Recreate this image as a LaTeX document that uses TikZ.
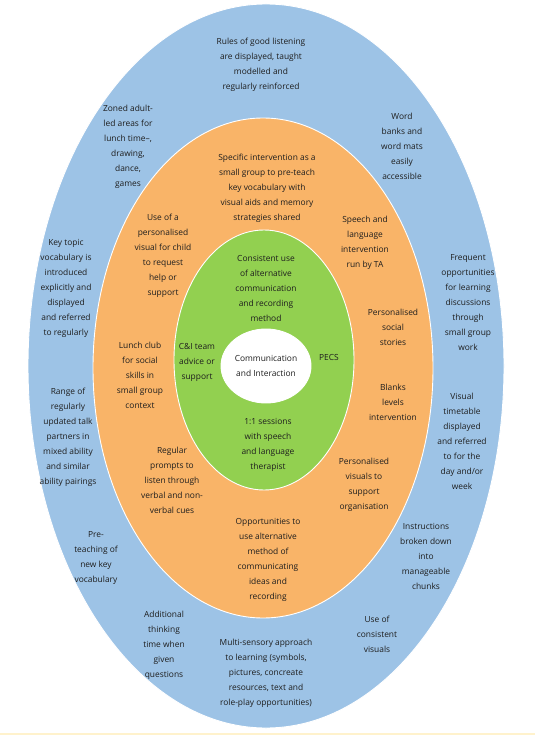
\documentclass[tikz,border=0pt]{standalone}
\usepackage{fontspec}
\setmainfont{Open Sans}
\usepackage{tikz}
\usetikzlibrary{positioning}
\definecolor{ringblue}{HTML}{9DC3E6}
\definecolor{ringorange}{HTML}{F9B468}
\definecolor{ringgreen}{HTML}{92D050}
\definecolor{stripyellow}{HTML}{FFF2CC}
\definecolor{inktext}{HTML}{1E1E1E}

\begin{document}
\begin{tikzpicture}[x=1pt, y=-1pt,
    ring/.style={draw=white, line width=0.9pt},
    txt/.style={align=center, text=inktext, inner sep=0pt,
      font=\fontsize{8.4}{15}\selectfont}]
  \useasboundingbox (0,0) rectangle (535,735);
  \fill[stripyellow] (0,732.5) rectangle (535,735);
  \draw[ring, fill=ringblue] (266,366) ellipse [x radius=238, y radius=362];
  \draw[ring, fill=ringorange] (263,368) ellipse [x radius=170, y radius=250];
  \draw[ring, fill=ringgreen] (264,360) ellipse [x radius=90, y radius=130];
  \draw[ring, fill=white] (266,366) ellipse [x radius=45, y radius=37];

  \node[txt] (listening) at (261,65) {Rules of good listening\\are displayed, taught\\modelled and\\regularly reinforced};
  \node[txt] (zoned) at (128,147) {Zoned adult-\\led areas for\\lunch time--,\\drawing,\\dance,\\games};
  \node[txt] (wordbanks) at (402,146) {Word\\banks and\\word mats\\easily\\accessible};
  \node[txt] (keytopic) at (66,288) {Key topic\\vocabulary is\\introduced\\explicitly and\\displayed\\and referred\\to regularly};
  \node[txt] (frequent) at (468,303) {Frequent\\opportunities\\for learning\\discussions\\through\\small group\\work};
  \node[txt] (talkpartners) at (68,437) {Range of\\regularly\\updated talk\\partners in\\mixed ability\\and similar\\ability pairings};
  \node[txt] (timetable) at (462,441) {Visual\\timetable\\displayed\\and referred\\to for the\\day and/or\\week};
  \node[txt] (preteach) at (96,558) {Pre-\\teaching of\\new key\\vocabulary};
  \node[txt] (instructions) at (426,556) {Instructions\\broken down\\into\\manageable\\chunks};
  \node[txt] (thinking) at (164,645) {Additional\\thinking\\time when\\given\\questions};
  \node[txt] (multisensory) at (266,673) {Multi-sensory approach\\to learning (symbols,\\pictures, concreate\\resources, text and\\role-play opportunities)};
  \node[txt] (consistentvis) at (377,634) {Use of\\consistent\\visuals};

  \node[txt] (specific) at (267,188) {Specific intervention as a\\small group to pre-teach\\key vocabulary with\\visual aids and memory\\strategies shared};
  \node[txt] (requestvis) at (163,256) {Use of a\\personalised\\visual for child\\to request\\help or\\support};
  \node[txt] (speechta) at (365,243) {Speech and\\language\\intervention\\run by TA};
  \node[txt] (lunchclub) at (140,375) {Lunch club\\for social\\skills in\\small group\\context};
  \node[txt] (stories) at (393,327) {Personalised\\social\\stories};
  \node[txt] (blanks) at (393,402) {Blanks\\levels\\intervention};
  \node[txt] (prompts) at (172,480) {Regular\\prompts to\\listen through\\verbal and non-\\verbal cues};
  \node[txt] (organise) at (364,485) {Personalised\\visuals to\\support\\organisation};
  \node[txt] (altmethod) at (268,560) {Opportunities to\\use alternative\\method of\\communicating\\ideas and\\recording};

  \node[txt] (consistentuse) at (266,288) {Consistent use\\of alternative\\communication\\and recording\\method};
  \node[txt] (citeam) at (197,362) {C\&I team\\advice or\\support};
  \node[txt] (pecs) at (329,357) {PECS};
  \node[txt] (therapist) at (268,445) {1:1 sessions\\with speech\\and language\\therapist};

  \node[txt] (centre) at (266,366) {Communication\\and Interaction};
\end{tikzpicture}
\end{document}
